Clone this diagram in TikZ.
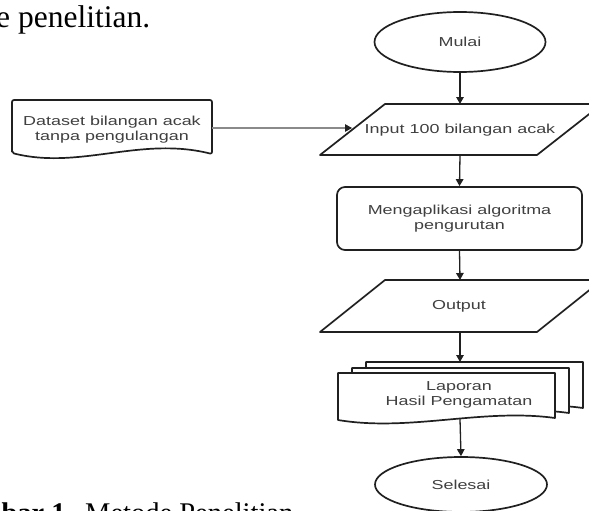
\documentclass[tikz,border=0pt]{standalone}
\usepackage{fontspec}
\setmainfont{Liberation Serif}
\newfontfamily\flowfont[FakeStretch=1.38]{Liberation Sans}
\usetikzlibrary{shapes.geometric,arrows.meta}
\definecolor{ink}{HTML}{202020}
\definecolor{txt}{HTML}{404040}
\definecolor{lgray}{HTML}{8A8A8A}
\begin{document}
\begin{tikzpicture}[x=1pt,y=-1pt,
  fc/.style={draw=ink,line width=1.7pt,fill=white,line join=round},
  lbl/.style={font=\flowfont\fontsize{13}{15}\selectfont,text=txt,align=center,inner sep=0pt},
  arr/.style={draw=ink,line width=1.3pt,-{Triangle[length=7pt,width=7.5pt]}},
  arrg/.style={draw=lgray,line width=1.1pt,-{Triangle[length=7pt,width=7.5pt,color=ink]}},
  body/.style={font=\fontsize{31.5}{36}\selectfont,inner sep=0pt},
  capt/.style={font=\fontsize{28.5}{34}\selectfont,inner sep=0pt},
  ]
\useasboundingbox (0,0) rectangle (589,511);
\begin{scope}
\clip (0,0) rectangle (589,511);
% surrounding text
\node[body,anchor=base west] (top) at (-4,28) {e penelitian.};
\node[capt,anchor=base east] (cap1) at (73,522) {\bfseries mbar 1.};
\node[capt,anchor=base west] (cap2) at (85,522) {Metode Penelitian};

% start
\node[fc,ellipse,minimum width=171pt,minimum height=60pt,lbl] (mulai) at (460,42) {Mulai};

% input parallelogram
\path[fc] (320,155) -- (385,104) -- (602,104) -- (537,155) -- cycle;
\node[lbl] (input) at (460,130) {Input 100 bilangan acak};
\coordinate (intop) at (460,104);
\coordinate (inbot) at (460,155);
\coordinate (inleft) at (352,128);

% dataset document
\path[fc,rounded corners=2pt] (12,153) -- (12,100) -- (212,100) -- (212,154)
  .. controls (140,136) and (80,170) .. (12,153) -- cycle;
\node[lbl] (dataset) at (112,129.5) {Dataset bilangan acak\\tanpa pengulangan};
\coordinate (dsout) at (212,128);

% process
\node[fc,rounded corners=8pt,minimum width=245pt,minimum height=63pt,lbl] (proc) at (459.5,218.5) {Mengaplikasi algoritma\\pengurutan};

% output parallelogram
\path[fc] (320,332) -- (385,280) -- (602,280) -- (537,332) -- cycle;
\node[lbl] (output) at (459,306) {Output};
\coordinate (outtop) at (460,280);
\coordinate (outbot) at (460,332);

% multi-document
\path[fc] (366,410) -- (366,362) -- (583,362) -- (583,408)
  .. controls (510,398) and (438,422) .. (366,410) -- cycle;
\path[fc] (352,415) -- (352,368) -- (569,368) -- (569,413)
  .. controls (496,403) and (424,427) .. (352,415) -- cycle;
\path[fc] (338,420) -- (338,373) -- (555,373) -- (555,418)
  .. controls (482,408) and (410,432) .. (338,420) -- cycle;
\node[lbl] (laporan) at (459,394.5) {Laporan\\Hasil Pengamatan};
\coordinate (laptop) at (460,362);
\coordinate (lapbot) at (460,419);

% end
\node[fc,ellipse,minimum width=172pt,minimum height=55pt,lbl] (selesai) at (461,484.5) {Selesai};

% connectors
\draw[arr] (mulai.south) -- (intop);
\draw[arr] (inbot) -- (proc.north);
\draw[arr] (proc.south) -- (outtop);
\draw[arr] (outbot) -- (laptop);
\draw[arr] (lapbot) -- (selesai.north);
\draw[arrg] (dsout) -- (inleft);
\end{scope}
\end{tikzpicture}
\end{document}
